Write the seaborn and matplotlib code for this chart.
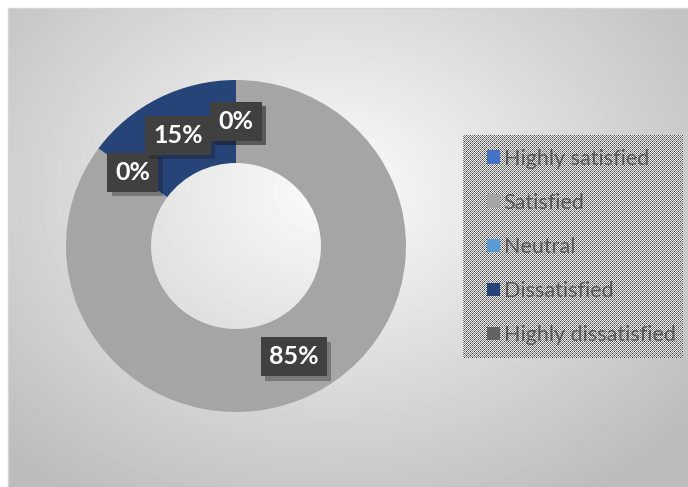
import numpy as np
import seaborn as sns
import matplotlib.pyplot as plt
import matplotlib.patheffects as pe

categories = ['Highly satisfied', 'Satisfied', 'Neutral', 'Dissatisfied', 'Highly dissatisfied']
percent = [0, 85, 0, 15, 0]
colors = ['#4472C4', '#A5A5A5', '#5B9BD5', '#264478', '#636363']

sns.set_style("white")
W, H = 688, 487
fig = plt.figure(figsize=(W / 100, H / 100), dpi=100)

# background: white page, chart area with a soft radial gradient
ax_bg = fig.add_axes([0, 0, 1, 1])
yy, xx = np.mgrid[0:H, 0:W]
d = np.sqrt(((xx - 330) / 420.0) ** 2 + ((yy - 190) / 330.0) ** 2)
bg = 252 - 58 * np.clip(d, 0, 1.1)
bg[(xx < 8) | (yy < 8)] = 255
ax_bg.imshow(bg, cmap='gray', vmin=0, vmax=255, extent=(0, W, H, 0), interpolation='bilinear')
ax_bg.plot([8, W], [8, 8], color='#d4d4d4', lw=1)
ax_bg.plot([8, 8], [8, H], color='#d4d4d4', lw=1)
ax_bg.set_xlim(0, W)
ax_bg.set_ylim(H, 0)
ax_bg.axis('off')

# donut
cx, cy, rx, ry = 236, 246, 170, 166
ax = fig.add_axes([(cx - rx) / W, (H - cy - ry) / H, 2 * rx / W, 2 * ry / H])
ax.set_facecolor('none')
wedges, _ = ax.pie(percent, colors=colors, startangle=90, counterclock=False,
                   radius=1, wedgeprops=dict(width=0.5, edgecolor='none'))
ax.set_xlim(-1, 1)
ax.set_ylim(-1, 1)
ax.set_aspect('auto')
ax.axis('off')

for w, val in zip(wedges, percent):
    ang = np.deg2rad((w.theta1 + w.theta2) / 2)
    x, y = 0.75 * np.cos(ang), 0.75 * np.sin(ang)
    t = ax.text(x, y, f'{val}%', ha='center', va='center', fontsize=18, fontweight='bold',
                family=['Lato', 'DejaVu Sans'], color='white',
                bbox=dict(boxstyle='square,pad=0.32', facecolor='#404040', edgecolor='none'))
    t.get_bbox_patch().set_path_effects([pe.SimplePatchShadow(offset=(3, -3), alpha=0.3),
                                         pe.Normal()])

# legend box with a fine checkered fill
lx0, ly0, lx1, ly1 = 463, 135, 683, 358
ax_pat = fig.add_axes([lx0 / W, (H - ly1) / H, (lx1 - lx0) / W, (ly1 - ly0) / H])
tile = np.array([[235, 130, 235, 60],
                 [130, 235, 130, 235],
                 [235, 60, 235, 130],
                 [130, 235, 130, 235]])
pat = np.tile(tile, ((ly1 - ly0) // 4 + 1, (lx1 - lx0) // 4 + 1))[:ly1 - ly0, :lx1 - lx0]
ax_pat.imshow(pat, cmap='gray', vmin=0, vmax=255, interpolation='nearest', aspect='auto')
ax_pat.axis('off')

leg = fig.legend(wedges, categories, loc='center left', bbox_to_anchor=(468 / W, 1 - 247 / H),
                 frameon=False, labelcolor='#595959',
                 prop=dict(family=['Lato', 'DejaVu Sans'], size=15.5),
                 handlelength=0.6, handleheight=0.6, handletextpad=0.15, labelspacing=1.12)
leg.set_zorder(10)

fig.savefig('out.png', dpi=100)
